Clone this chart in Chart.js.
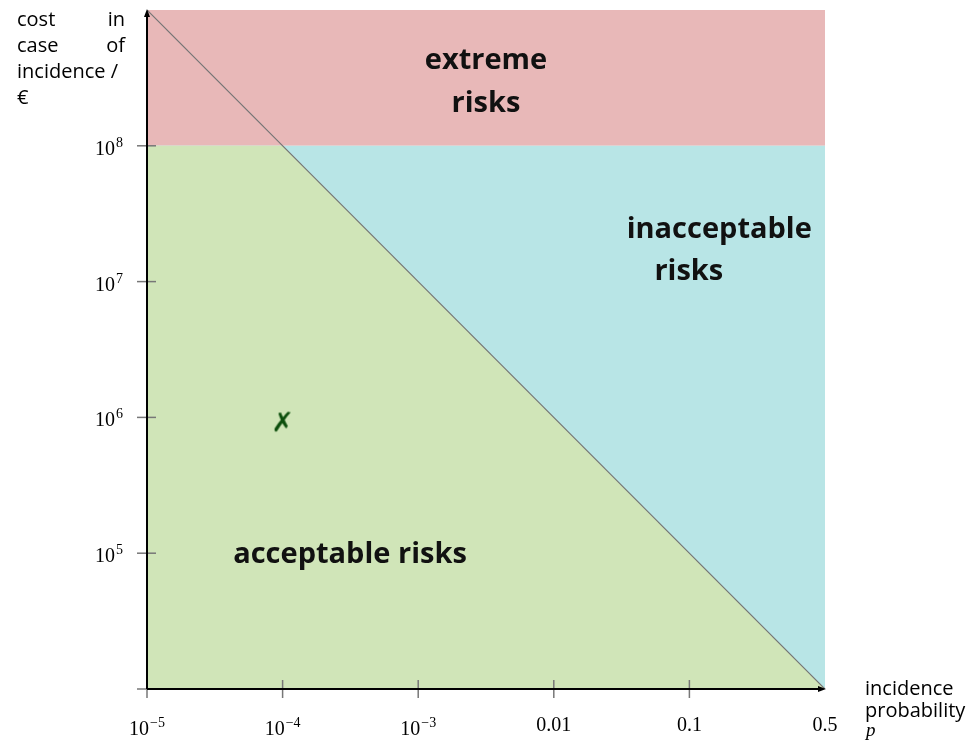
<!DOCTYPE html>
<html>
<head>
<meta charset="utf-8">
<script src="https://cdn.jsdelivr.net/npm/chart.js@4.4.1/dist/chart.umd.min.js"></script>
<style>
  body { margin: 0; background: #fff; }
  #wrap { width: 977px; height: 749px; }
</style>
</head>
<body>
<div id="wrap"><canvas id="riskChart" width="977" height="749"></canvas></div>
<script>
// axis ticks (the last x tick sits one decade after 0.1 in the original, labelled 0.5)
const xTickValues = [1e-5, 1e-4, 1e-3, 1e-2, 1e-1, 1];
const xTickLabels = [['10', '\u22125'], ['10', '\u22124'], ['10', '\u22123'], ['0.01'], ['0.1'], ['0.5']];
const yTickValues = [1e4, 1e5, 1e6, 1e7, 1e8];
const yTickLabels = [[''], ['10', '5'], ['10', '6'], ['10', '7'], ['10', '8']];

// region borders
const extremeTop = [{ x: 1e-5, y: 1e9 }, { x: 1, y: 1e9 }];
const limitLine = [{ x: 1e-5, y: 1e8 }, { x: 1, y: 1e8 }];
const acceptableEdge = [{ x: 1e-5, y: 1e8 }, { x: 1e-4, y: 1e8 }, { x: 1, y: 1e4 }];
const isoRiskLine = [{ x: 1e-5, y: 1e9 }, { x: 1, y: 1e4 }];
const riskPoint = [{ x: 1e-4, y: 1e6 }];

// region names
const regionTexts = ['extreme', 'risks', 'inacceptable', 'risks', 'acceptable risks'];
const regionTextX = [3.16e-3, 3.16e-3, 0.166, 0.099, 3.14e-4];
const regionTextY = [4.2e8, 2.05e8, 2.4e7, 1.19e7, 0.97e5];

const greenFill = '#d0e5b8';
const blueFill = '#b8e5e6';
const redFill = '#e8b8b8';

// hand-drawn looking cross used as the point marker
const cross = document.createElement('canvas');
cross.width = 44; cross.height = 44;
(function () {
    const c = cross.getContext('2d');
    c.fillStyle = '#0d4f0d';
    c.font = 'bold 27px "DejaVu Sans"';
    c.textAlign = 'center';
    c.textBaseline = 'middle';
    c.fillText('\u2717', 22, 29);
})();

function drawPower(ctx, parts, x, y, align) {
    // y is the top of the label
    const big = '20px "Liberation Serif"';
    const small = '14px "Liberation Serif"';
    ctx.textBaseline = 'alphabetic';
    ctx.textAlign = 'left';
    ctx.font = big;
    const w1 = ctx.measureText(parts[0]).width;
    let w2 = 0;
    if (parts.length > 1) { ctx.font = small; w2 = ctx.measureText(parts[1]).width + 1; }
    const w = w1 + w2;
    let left = align === 'right' ? x - w : x - w / 2;
    ctx.font = big;
    if (parts.length > 1) {
        ctx.fillText(parts[0], left, y + 16);
        ctx.font = small;
        ctx.fillText(parts[1], left + w1 + 1, y + 8);
    } else {
        ctx.fillText(parts[0], left, y + 12);
    }
}

const axesPlugin = {
    id: 'axesPlugin',
    afterDraw(chart) {
        const ctx = chart.ctx;
        const xs = chart.scales.x, ys = chart.scales.y;
        const a = chart.chartArea;
        ctx.save();

        // region names
        ctx.fillStyle = '#111';
        ctx.font = 'bold 29px "Open Sans"';
        ctx.textAlign = 'center';
        ctx.textBaseline = 'middle';
        regionTexts.forEach(function (t, i) {
            ctx.fillText(t, xs.getPixelForValue(regionTextX[i]), ys.getPixelForValue(regionTextY[i]));
        });

        // tick marks
        ctx.strokeStyle = '#777';
        ctx.lineWidth = 1.5;
        xTickValues.slice(0, -1).forEach(function (v) {
            const px = xs.getPixelForValue(v);
            ctx.beginPath(); ctx.moveTo(px, a.bottom - 9); ctx.lineTo(px, a.bottom + 9); ctx.stroke();
        });
        yTickValues.forEach(function (v) {
            const py = ys.getPixelForValue(v);
            ctx.beginPath(); ctx.moveTo(a.left - 10, py); ctx.lineTo(a.left + 9, py); ctx.stroke();
        });

        // axis lines with arrows
        ctx.strokeStyle = '#000';
        ctx.fillStyle = '#000';
        ctx.lineWidth = 2;
        ctx.beginPath();
        ctx.moveTo(a.left, a.bottom); ctx.lineTo(a.left, a.top + 4);
        ctx.moveTo(a.left, a.bottom); ctx.lineTo(a.right - 4, a.bottom);
        ctx.stroke();
        ctx.beginPath();
        ctx.moveTo(a.left, a.top - 1); ctx.lineTo(a.left - 3, a.top + 7); ctx.lineTo(a.left + 3, a.top + 7);
        ctx.closePath(); ctx.fill();
        ctx.beginPath();
        ctx.moveTo(a.right + 1, a.bottom); ctx.lineTo(a.right - 7, a.bottom - 3); ctx.lineTo(a.right - 7, a.bottom + 3);
        ctx.closePath(); ctx.fill();

        // tick labels
        ctx.fillStyle = '#000';
        xTickValues.forEach(function (v, i) {
            drawPower(ctx, xTickLabels[i], xs.getPixelForValue(v), a.bottom + 30, 'center');
        });
        yTickValues.forEach(function (v, i) {
            drawPower(ctx, yTickLabels[i], a.left - 24, ys.getPixelForValue(v) - 7, 'right');
        });

        // axis titles
        ctx.font = '20px "Open Sans"';
        ctx.textBaseline = 'alphabetic';
        ctx.textAlign = 'left';
        ctx.fillText('cost', 17, 26);
        ctx.fillText('case', 17, 52);
        ctx.fillText('incidence /', 17, 78);
        ctx.fillText('\u20ac', 17, 104);
        ctx.textAlign = 'right';
        ctx.fillText('in', 125, 26);
        ctx.fillText('of', 125, 52);

        ctx.textAlign = 'left';
        ctx.fillText('incidence', 865, 695);
        ctx.fillText('probability', 865, 717);
        ctx.font = 'italic 19px "Liberation Serif"';
        ctx.fillText('p', 866, 736);
        ctx.restore();
    }
};

new Chart(document.getElementById('riskChart'), {
    type: 'line',
    data: {
        datasets: [
            { data: riskPoint, showLine: false, pointStyle: cross, pointRadius: 22, order: 0 },
            { data: isoRiskLine, borderColor: '#747474', borderWidth: 1.2, pointRadius: 0, fill: false, order: 1 },
            { data: acceptableEdge, borderWidth: 0, borderColor: greenFill, backgroundColor: greenFill, pointRadius: 0, fill: 'start', order: 2 },
            { data: limitLine, borderWidth: 0, borderColor: blueFill, backgroundColor: blueFill, pointRadius: 0, fill: 'start', order: 3 },
            { data: extremeTop, borderWidth: 0, borderColor: redFill, backgroundColor: redFill, pointRadius: 0, fill: { value: 1e8 }, order: 4 }
        ]
    },
    options: {
        responsive: false,
        animation: false,
        layout: { autoPadding: false, padding: { left: 139, right: 152, top: 10, bottom: 52 } },
        plugins: { legend: { display: false }, tooltip: { enabled: false } },
        scales: {
            x: {
                type: 'logarithmic', min: 1e-5, max: 1,
                grid: { display: false }, border: { display: false }, ticks: { display: false }
            },
            y: {
                type: 'logarithmic', min: 1e4, max: 1e9,
                grid: { display: false }, border: { display: false }, ticks: { display: false }
            }
        }
    },
    plugins: [axesPlugin]
});
</script>
</body>
</html>
